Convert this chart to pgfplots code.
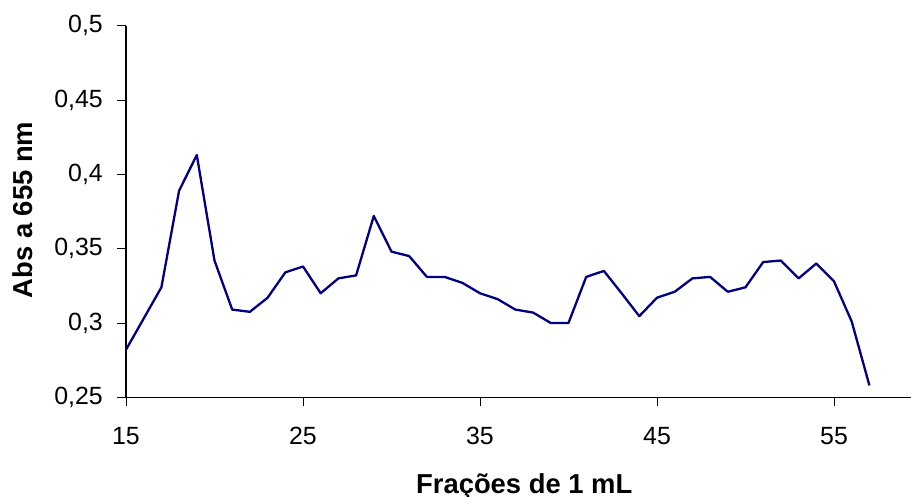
\documentclass[border=0pt]{standalone}
\usepackage{pgfplots}
\pgfplotsset{compat=1.18}
\usepackage{fontspec}
\setmainfont{Liberation Sans}
\definecolor{linenavy}{RGB}{0,0,128}
\begin{document}
\begin{tikzpicture}
\path[use as bounding box] (0,0) rectangle (911bp,497bp);
\begin{axis}[
  at={(126bp,99.7bp)}, anchor=south west,
  scale only axis, width=796.5bp, height=371.6bp,
  xmin=15, xmax=60, ymin=0.25, ymax=0.5,
  axis lines*=left,
  axis line style={line width=1.1bp, -},
  xtick={15,25,35,45,55},
  ytick={0.25,0.3,0.35,0.4,0.45,0.5},
  tick align=outside, major tick length=8.7bp,
  tick style={line width=0.9bp, black},
  /pgf/number format/.cd, use comma, assume math mode=true, 1000 sep={},
  /pgfplots/.cd,
  ticklabel style={font=\fontsize{25}{29}\selectfont},
  xticklabel style={anchor=north, inner sep=0pt, yshift=-20.7bp},
  yticklabel style={anchor=east, inner sep=0pt, xshift=-14.3bp},
  every axis x label/.style={at={(axis description cs:0.5,0)}, anchor=base, yshift=-95.7bp},
  every axis y label/.style={at={(axis description cs:-0.1293,0.504)}, rotate=90, anchor=center},
  label style={font=\fontsize{27.5}{32}\selectfont\bfseries},
  xlabel={Frações de 1 mL},
  ylabel={Abs a 655 nm},
]
\addplot[color=linenavy, line width=2.3bp, line join=round] coordinates {
  (15,0.282) (16,0.303) (17,0.324) (18,0.389) (19,0.413)
  (20,0.342) (21,0.309) (22,0.3075) (23,0.317) (24,0.334)
  (25,0.338) (26,0.320) (27,0.330) (28,0.332) (29,0.372)
  (30,0.348) (31,0.345) (32,0.331) (33,0.331) (34,0.327)
  (35,0.320) (36,0.316) (37,0.309) (38,0.307) (39,0.300)
  (40,0.300) (41,0.331) (42,0.335) (43,0.320) (44,0.3046)
  (45,0.317) (46,0.321) (47,0.330) (48,0.331) (49,0.321)
  (50,0.324) (51,0.341) (52,0.342) (53,0.330) (54,0.340)
  (55,0.328) (56,0.301) (57,0.258)
};
\end{axis}
\end{tikzpicture}
\end{document}
